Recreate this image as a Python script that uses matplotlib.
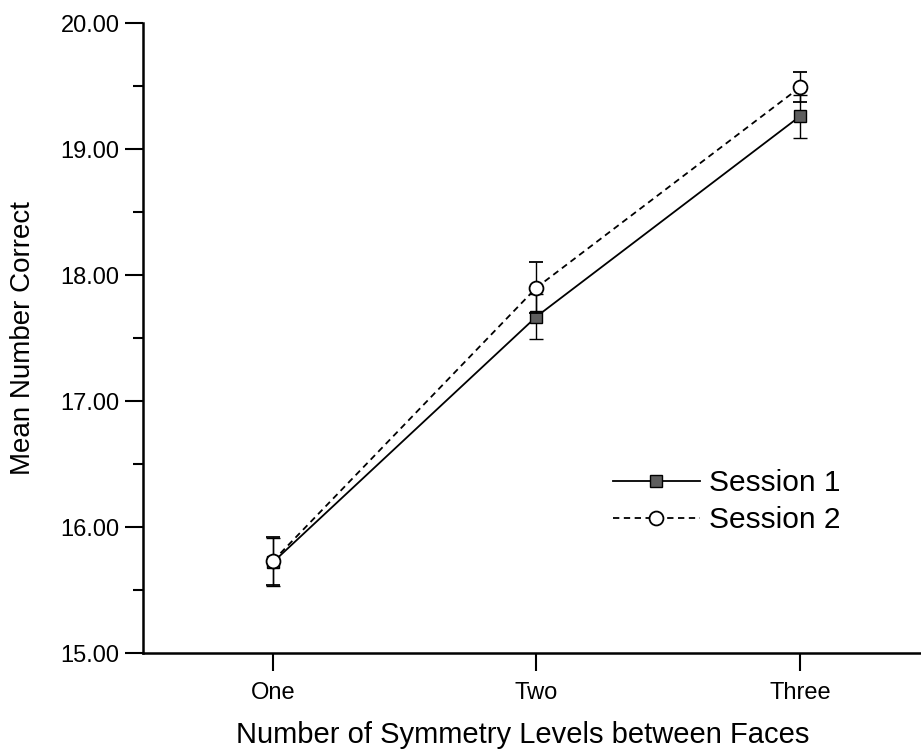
import numpy as np
import matplotlib
matplotlib.use("Agg")
import matplotlib.pyplot as plt
from matplotlib.lines import Line2D

plt.rcParams['font.family'] = ['Liberation Sans', 'DejaVu Sans']

# ---------- data ----------
levels = ["One", "Two", "Three"]
session1_mean = [15.72, 17.67, 19.26]
session1_err = [0.19, 0.18, 0.17]
session2_mean = [15.73, 17.90, 19.49]
session2_err = [0.19, 0.20, 0.12]

x = np.arange(1, len(levels) + 1)

fig = plt.figure(figsize=(9.21, 7.53), dpi=100)
ax = fig.add_axes([143 / 921, 100 / 753, 778 / 921, 630 / 753])

s1_style = dict(color="black", lw=1.3, marker="s", markersize=9,
                markerfacecolor="#5e5e5e", markeredgecolor="black",
                markeredgewidth=1.0)
s2_style = dict(color="black", lw=1.3, linestyle=(0, (3.5, 2.5)),
                marker="o", markersize=10, markerfacecolor="white",
                markeredgecolor="black", markeredgewidth=1.3)

# Session 1: solid line, dark grey squares
ax.errorbar(x, session1_mean, yerr=session1_err, ecolor="black",
            elinewidth=1.0, capsize=5, capthick=1.0, zorder=3, **s1_style)
# Session 2: dashed line, open circles
ax.errorbar(x, session2_mean, yerr=session2_err, ecolor="black",
            elinewidth=1.0, capsize=5, capthick=1.0, zorder=4, **s2_style)

ax.set_xlim(0.507, 3.459)
ax.set_ylim(15, 20)
ax.set_xticks(x)
ax.set_xticklabels(levels)
ax.set_yticks(np.arange(15, 20.5, 1))
ax.set_yticklabels([f"{v:.2f}" for v in np.arange(15, 20.5, 1)])
ax.set_yticks(np.arange(15.5, 20, 1), minor=True)

for s in ["top", "right"]:
    ax.spines[s].set_visible(False)
for s in ["left", "bottom"]:
    ax.spines[s].set_linewidth(1.8)

ax.tick_params(axis="y", which="major", direction="out", length=13, width=1.5,
               labelsize=17, pad=4)
ax.tick_params(axis="y", which="minor", direction="out", length=7, width=1.5)
ax.tick_params(axis="x", which="major", direction="out", length=13, width=1.5,
               labelsize=17, pad=8)

fig.text(23 / 921, 1 - 338 / 753, "Mean Number Correct", rotation=90,
         ha="center", va="center", fontsize=20)
fig.text(523 / 921, 18 / 753, "Number of Symmetry Levels between Faces",
         ha="center", va="center", fontsize=21)

handles = [Line2D([], [], **s1_style), Line2D([], [], **s2_style)]
ax.legend(handles, ["Session 1", "Session 2"], loc="upper left",
          bbox_to_anchor=(613 / 921, 1 - 469 / 753),
          bbox_transform=fig.transFigure, frameon=False, fontsize=21.5,
          handlelength=2.9, handletextpad=0.3, labelspacing=0.3,
          borderpad=0, borderaxespad=0)

fig.savefig("out.png", dpi=100)
